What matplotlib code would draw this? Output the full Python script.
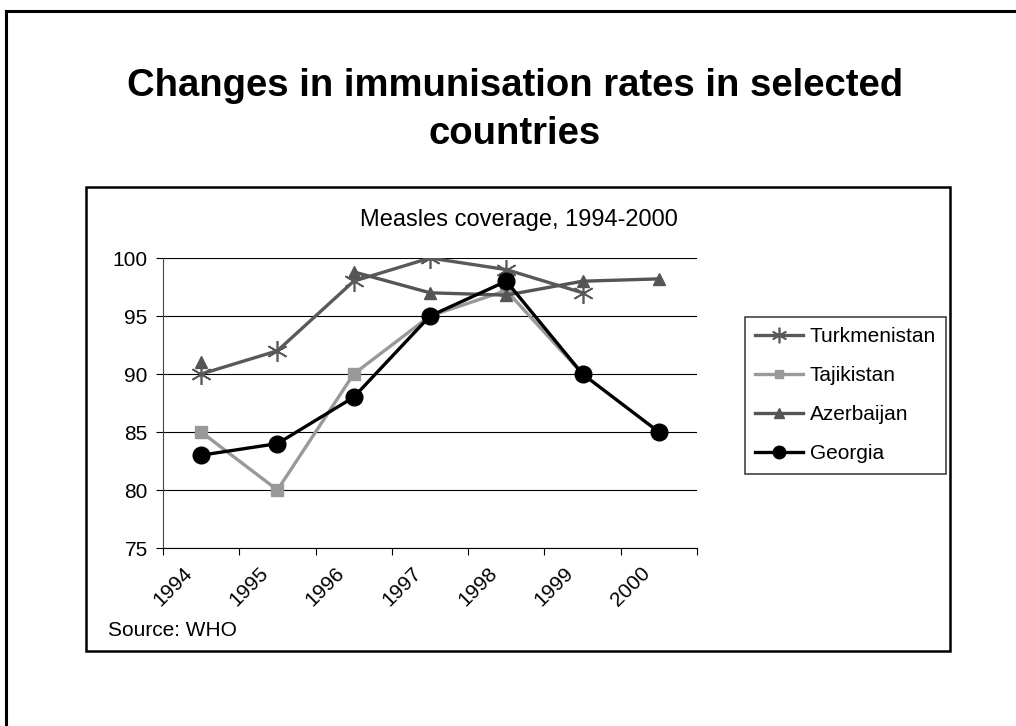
import numpy as np
import matplotlib
matplotlib.use("Agg")
import matplotlib.pyplot as plt
from matplotlib.lines import Line2D
from matplotlib.patches import Rectangle
from matplotlib.transforms import ScaledTranslation

years = ["1994", "1995", "1996", "1997", "1998", "1999", "2000"]
turkmenistan = [90, 92, 98, 100, 99, 97, np.nan]
tajikistan = [85, 80, 90, 95, 97.2, 90, np.nan]
azerbaijan = [91, np.nan, 98.8, 97, 96.8, 98, 98.2]
georgia = [83, 84, 88, 95, 98, 90, 85]
yticks = [75, 80, 85, 90, 95, 100]

plt.rcParams['font.family'] = ['Liberation Sans', 'DejaVu Sans']

W, H = 1016, 726
fig = plt.figure(figsize=(W / 100, H / 100), dpi=100)
fig.patch.set_facecolor("white")

def fx(px):
    return px / W

def fy(py):
    return 1 - py / H

# outer slide frame (partially visible)
fig.add_artist(Line2D([fx(6), fx(1016)], [fy(11), fy(11)], color="black", lw=2.2))
fig.add_artist(Line2D([fx(6), fx(6)], [fy(11), fy(726)], color="black", lw=2.2))

# chart box
fig.add_artist(Rectangle((fx(86), fy(651)), fx(950) - fx(86), fy(187) - fy(651),
                         transform=fig.transFigure, fill=False, edgecolor="black", lw=1.8))

fig.text(fx(515), fy(86), "Changes in immunisation rates in selected", ha="center", va="center",
         fontsize=27.5, fontweight="bold")
fig.text(fx(515), fy(134), "countries", ha="center", va="center", fontsize=27.5, fontweight="bold")

ax = fig.add_axes([fx(163), fy(548), fx(697) - fx(163), fy(258) - fy(548)])
x = np.arange(len(years))

ax.plot(x, turkmenistan, color="#595959", lw=2.4, marker=(6, 2, 0), markersize=15,
        markeredgewidth=1.2, markeredgecolor="#595959", label="Turkmenistan", zorder=3)
ax.plot(x, tajikistan, color="#999999", lw=2.4, marker="s", markersize=8.5,
        label="Tajikistan", zorder=3)
ax.plot(x, azerbaijan, color="#555555", lw=2.4, marker="^", markersize=9,
        label="Azerbaijan", zorder=4)
ax.plot(x, georgia, color="black", lw=2.4, marker="o", markersize=12,
        label="Georgia", zorder=5)

ax.set_xlim(-0.5, 6.5)
ax.set_ylim(75, 100)
ax.set_yticks(yticks)
ax.set_yticklabels([str(v) for v in yticks], fontsize=15)
ax.set_xticks(np.arange(-0.5, 7, 1))
ax.set_xticklabels([])
ax.set_xticks(x, minor=True)
ax.set_xticklabels(years, minor=True, rotation=45, ha="right", va="center",
                   rotation_mode="anchor", fontsize=15)
ax.tick_params(axis="x", which="minor", length=0, pad=16)
ax.tick_params(axis="x", which="major", length=5, width=0.8, color="black", direction="out")
ax.tick_params(axis="y", length=5, width=0.8, color="black", direction="out", pad=6)
shift = ScaledTranslation(-12 / 100, 0, fig.dpi_scale_trans)
for lab in ax.get_xticklabels(minor=True):
    lab.set_transform(lab.get_transform() + shift)

ax.grid(axis="y", color="black", lw=0.8)
ax.set_axisbelow(True)
for s in ["top", "right"]:
    ax.spines[s].set_visible(False)
ax.spines["left"].set_color("#444444")
ax.spines["left"].set_linewidth(0.8)
ax.spines["bottom"].set_color("black")
ax.spines["bottom"].set_linewidth(0.8)

fig.text(fx(519), fy(220), "Measles coverage, 1994-2000", ha="center", va="center", fontsize=17)
fig.text(fx(108), fy(630), "Source: WHO", ha="left", va="center", fontsize=15)

leg = fig.legend(loc="upper left", bbox_to_anchor=(fx(745), fy(317)), fontsize=15,
                 frameon=True, fancybox=False, edgecolor="black", handlelength=2.3,
                 handletextpad=0.3, labelspacing=0.96, borderpad=0.5, borderaxespad=0)
leg.get_frame().set_linewidth(1.1)
for h in leg.legend_handles:
    ms = h.get_markersize()
    h.set_markersize(ms * 0.75)

fig.savefig("out.png", dpi=100)
